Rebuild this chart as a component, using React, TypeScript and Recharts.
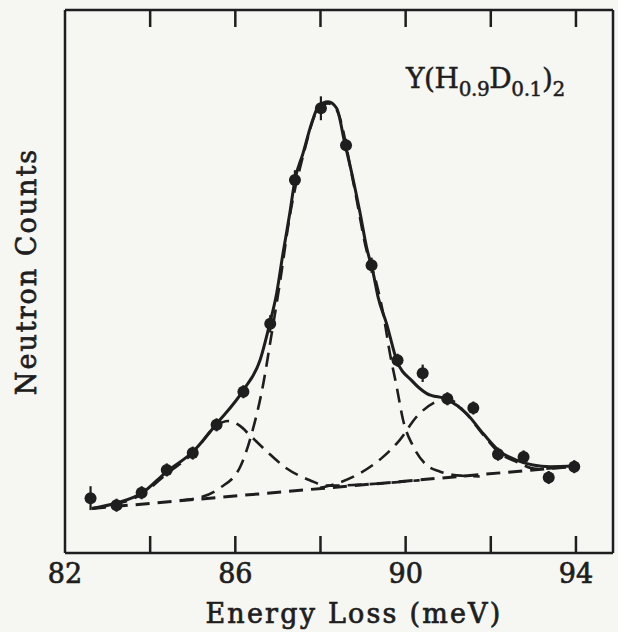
import React from "react";
import {
  ComposedChart,
  Line,
  Scatter,
  ErrorBar,
  XAxis,
  YAxis,
  ReferenceLine,
} from "recharts";

// energy loss (meV) / neutron counts (arb. units, 0-100 on the frame)
const measX = [
  82.6, 83.21, 83.8, 84.39, 85.0, 85.56, 86.19, 86.82, 87.4, 88.01,
  88.6, 89.2, 89.81, 90.4, 90.98, 91.59, 92.17, 92.77, 93.36, 93.96,
];
const measY = [
  10.1, 8.8, 11.1, 15.3, 18.4, 23.6, 29.7, 42.2, 68.7, 81.9,
  75.1, 53.0, 35.5, 33.1, 28.4, 26.7, 18.2, 17.7, 13.9, 15.9,
];
const measErr = [
  2.2, 1.2, 1.2, 1.2, 1.2, 1.2, 1.2, 1.6, 1.8, 2.2,
  1.2, 1.4, 1.2, 1.6, 1.2, 1.2, 1.2, 1.2, 1.2, 1.2,
];

// total fit (solid)
const fitX = [
  82.63, 83.21, 83.8, 84.39, 85.01, 85.56, 86.19, 86.58, 86.81, 86.97,
  87.12, 87.28, 87.4, 87.59, 87.79, 87.95, 88.18, 88.38, 88.57, 88.77,
  88.93, 89.08, 89.24, 89.35, 89.55, 89.79, 90.15, 90.49, 91.0, 91.43,
  91.82, 92.21, 92.6, 92.99, 93.39, 93.97,
];
const fitY = [
  8.2, 9.2, 11.0, 15.0, 18.7, 23.8, 30.0, 35.5, 42.3, 47.8,
  55.2, 62.6, 68.7, 73.6, 79.1, 82.2, 83.1, 81.9, 75.5, 68.7,
  62.6, 56.4, 51.5, 47.2, 42.3, 35.5, 31.7, 29.4, 28.2, 25.7,
  22.0, 18.7, 17.1, 16.2, 15.9, 16.0,
];

// left component (dashed)
const leftX = [
  82.63, 83.21, 83.8, 84.39, 85.01, 85.56, 85.83, 86.11, 86.34, 86.74,
  87.2, 87.75, 88.14, 89.39, 90.33,
];
const leftY = [
  8.2, 9.0, 10.8, 14.6, 18.4, 23.5, 24.3, 23.4, 21.7, 18.7,
  15.6, 13.4, 12.4, 12.8, 13.4,
];

// main component (dashed)
const mainX = [
  84.7, 85.24, 85.64, 86.11, 86.41, 86.66, 86.81, 87.05, 87.28, 87.59,
  87.95, 88.18, 88.38, 88.77, 89.08, 89.32, 89.47, 89.63, 89.79, 89.94,
  90.18, 90.49, 90.8, 91.2, 91.74,
];
const mainY = [
  9.7, 10.4, 12.0, 15.8, 22.7, 31.3, 38.3, 49.9, 62.1, 73.1,
  81.8, 82.8, 81.6, 68.3, 55.8, 49.5, 44.2, 36.8, 30.6, 24.5,
  19.6, 16.2, 15.0, 14.3, 14.1,
];

// right component (dashed)
const rightX = [
  87.99, 88.38, 88.93, 89.47, 89.86, 90.26, 90.65, 91.0, 91.43, 91.82,
  92.21, 92.6, 93.07, 93.62,
];
const rightY = [
  12.0, 12.8, 14.7, 17.7, 20.8, 25.1, 27.6, 28.3, 25.6, 21.8,
  18.4, 16.8, 15.5, 15.7,
];

// linear background (dashed)
const baseX = [82.63, 93.97];
const baseY = [8.2, 15.95];

const xTicks = [82, 84, 86, 88, 90, 92, 94];
const xLabels = [82, 86, 90, 94];

const INK = "#1e1e1e";
const FONT = "'DejaVu Serif', serif";
const X_DOMAIN: [number, number] = [82, 94.87];
const Y_MAX = 100;

// plot box (px) - same numbers as the chart margins/axis sizes below
const W = 618;
const H = 632;
const PLOT_LEFT = 65;
const PLOT_RIGHT = W - 5;
const PLOT_TOP = 10;
const PLOT_BOTTOM = H - 79;
const TICK_PX = 17;

const zip = (xs: number[], ys: number[]) => xs.map((x, i) => ({ x, y: ys[i] }));
const points = measX.map((x, i) => ({ x, y: measY[i], err: measErr[i] }));

const tickPx = (t: number) =>
  PLOT_LEFT +
  ((t - X_DOMAIN[0]) / (X_DOMAIN[1] - X_DOMAIN[0])) * (PLOT_RIGHT - PLOT_LEFT);

const BottomLabel = (props: any) => {
  const { x, y, payload } = props;
  if (!xLabels.includes(payload.value)) return <g />;
  return (
    <text
      x={x}
      y={y + 30}
      textAnchor="middle"
      fontFamily={FONT}
      fontSize={27}
      fill={INK}
      stroke={INK}
      strokeWidth={0.7}
    >
      {payload.value}
    </text>
  );
};

const XTitle = (props: any) => {
  const vb = props.viewBox;
  return (
    <text
      x={vb.x + vb.width / 2 + 15}
      y={623}
      textAnchor="middle"
      fontFamily={FONT}
      fontSize={27}
      letterSpacing={2.2}
      fill={INK}
      stroke={INK}
      strokeWidth={0.7}
    >
      Energy Loss (meV)
    </text>
  );
};

const YTitle = (props: any) => {
  const vb = props.viewBox;
  return (
    <text
      transform={`translate(36, ${vb.y + vb.height / 2 - 10}) rotate(-90)`}
      textAnchor="middle"
      fontFamily={FONT}
      fontSize={27}
      letterSpacing={2}
      fill={INK}
      stroke={INK}
      strokeWidth={0.7}
    >
      Neutron Counts
    </text>
  );
};

const Dot = (p: any) => <circle cx={p.cx} cy={p.cy} r={6} fill={INK} />;

const dash = "14 8";

export default function App() {
  return (
    <div
      style={{
        position: "absolute",
        left: 0,
        top: 0,
        width: W,
        height: H,
        background: "#f6f6f3",
      }}
    >
      <ComposedChart
        width={W}
        height={H}
        margin={{ top: PLOT_TOP, right: 0, bottom: 0, left: 0 }}
      >
        <XAxis
          dataKey="x"
          type="number"
          domain={X_DOMAIN}
          ticks={xTicks}
          allowDataOverflow
          height={H - PLOT_BOTTOM}
          axisLine={{ stroke: INK, strokeWidth: 2.5 }}
          tickLine={false}
          tickSize={0}
          tickMargin={0}
          tick={<BottomLabel />}
          interval={0}
          label={<XTitle />}
        />
        <YAxis
          type="number"
          domain={[0, Y_MAX]}
          allowDataOverflow
          width={PLOT_LEFT}
          tick={false}
          tickLine={false}
          axisLine={{ stroke: INK, strokeWidth: 2.5 }}
          label={<YTitle />}
        />
        <YAxis
          yAxisId="right"
          orientation="right"
          type="number"
          domain={[0, Y_MAX]}
          width={W - PLOT_RIGHT}
          tick={false}
          tickLine={false}
          axisLine={{ stroke: INK, strokeWidth: 2.5 }}
        />
        {/* top frame */}
        <ReferenceLine y={Y_MAX} stroke={INK} strokeWidth={2.5} ifOverflow="visible" />
        <Line
          data={zip(baseX, baseY)}
          dataKey="y"
          type="linear"
          stroke={INK}
          strokeWidth={3}
          strokeDasharray={dash}
          dot={false}
          isAnimationActive={false}
        />
        <Line
          data={zip(leftX, leftY)}
          dataKey="y"
          type="monotone"
          stroke={INK}
          strokeWidth={2.6}
          strokeDasharray={dash}
          dot={false}
          isAnimationActive={false}
        />
        <Line
          data={zip(mainX, mainY)}
          dataKey="y"
          type="monotone"
          stroke={INK}
          strokeWidth={2.6}
          strokeDasharray={dash}
          dot={false}
          isAnimationActive={false}
        />
        <Line
          data={zip(rightX, rightY)}
          dataKey="y"
          type="monotone"
          stroke={INK}
          strokeWidth={2.6}
          strokeDasharray={dash}
          dot={false}
          isAnimationActive={false}
        />
        <Line
          data={zip(fitX, fitY)}
          dataKey="y"
          type="monotone"
          stroke={INK}
          strokeWidth={3}
          dot={false}
          isAnimationActive={false}
        />
        <Scatter
          data={points}
          dataKey="y"
          fill={INK}
          shape={<Dot />}
          isAnimationActive={false}
        >
          <ErrorBar
            dataKey="err"
            direction="y"
            width={0}
            stroke={INK}
            strokeWidth={2.2}
          />
        </Scatter>
      </ComposedChart>
      {/* overlay: inward frame ticks and the sample label */}
      <svg
        width={W}
        height={H}
        style={{ position: "absolute", left: 0, top: 0, pointerEvents: "none" }}
      >
        {xTicks.slice(1).map((t) => (
          <g key={t}>
            <line
              x1={tickPx(t)}
              x2={tickPx(t)}
              y1={PLOT_BOTTOM}
              y2={PLOT_BOTTOM - TICK_PX}
              stroke={INK}
              strokeWidth={2.5}
            />
            <line
              x1={tickPx(t)}
              x2={tickPx(t)}
              y1={PLOT_TOP}
              y2={PLOT_TOP + TICK_PX}
              stroke={INK}
              strokeWidth={2.5}
            />
          </g>
        ))}
        <text
          x={406}
          y={88}
          fontFamily={FONT}
          fontSize={28}
          letterSpacing={-0.4}
          fill={INK}
          stroke={INK}
          strokeWidth={0.5}
        >
          Y(H
          <tspan fontSize={20} dy={8}>0.9</tspan>
          <tspan dy={-8}>D</tspan>
          <tspan fontSize={20} dy={8}>0.1</tspan>
          <tspan dy={-8}>)</tspan>
          <tspan fontSize={20} dy={8}>2</tspan>
        </text>
      </svg>
    </div>
  );
}
